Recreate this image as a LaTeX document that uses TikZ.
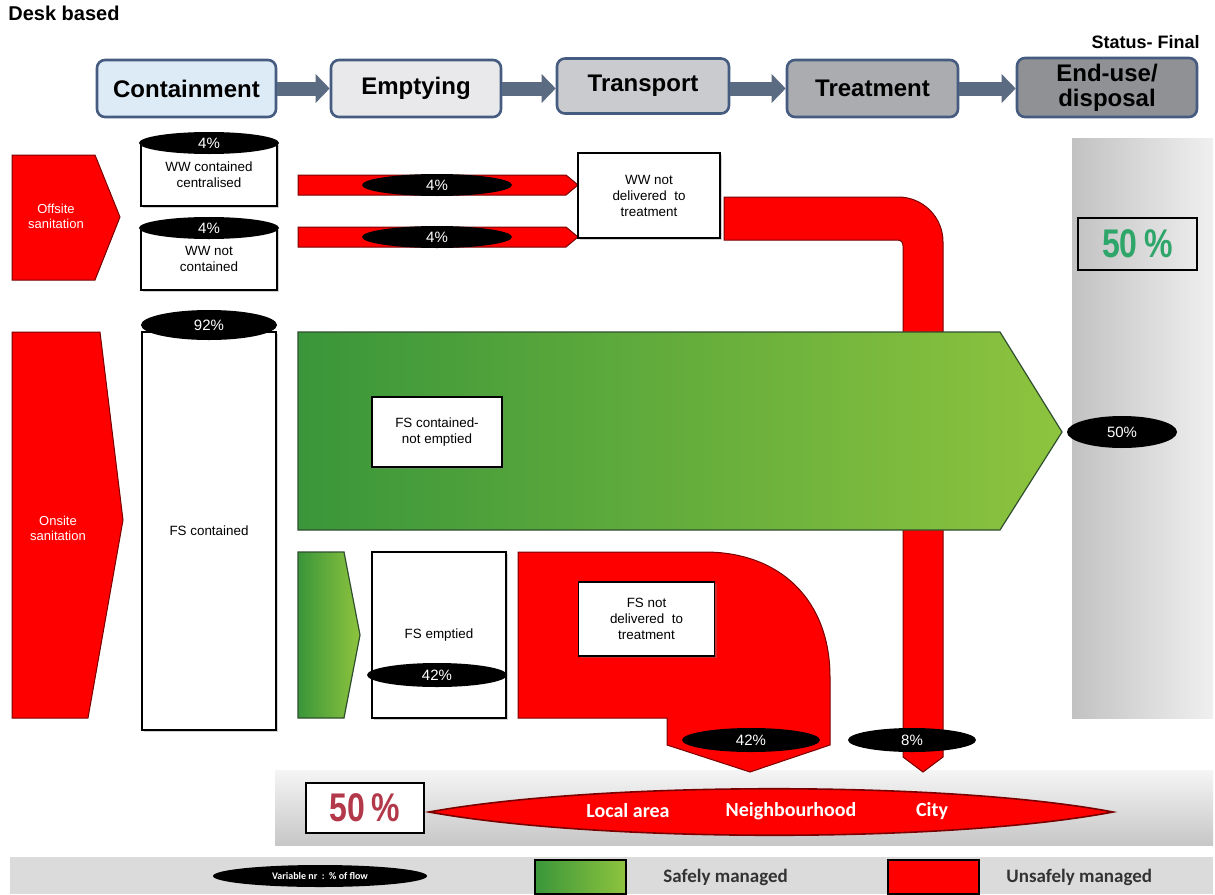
\documentclass[tikz,border=0pt]{standalone}
\usepackage{fontspec}
\setmainfont{Liberation Sans}
\newfontfamily\narrowf[FakeStretch=0.8]{Liberation Sans}
\newfontfamily\calf{Carlito}
\usetikzlibrary{shapes.geometric,shadows,arrows.meta}
\definecolor{hdrb}{HTML}{455C80}
\definecolor{arrc}{HTML}{5B6B82}
\definecolor{c1}{HTML}{DDEBF7}
\definecolor{c2}{HTML}{E9E9EC}
\definecolor{c3}{HTML}{CACBCE}
\definecolor{c4}{HTML}{ABACAF}
\definecolor{c5}{HTML}{909195}
\definecolor{dred}{HTML}{7A0000}
\definecolor{myred}{HTML}{FF0000}
\definecolor{g1}{HTML}{3A963A}
\definecolor{g2}{HTML}{8EC43E}
\definecolor{dgreen}{HTML}{2F4F2F}
\definecolor{pgreen}{HTML}{2EA66A}
\definecolor{pred}{HTML}{B3394A}
\definecolor{txtgray}{HTML}{333333}
\tikzset{
  hdr/.style={draw=hdrb, line width=1.3pt, rounded corners=4pt, font=\bfseries\fontsize{12}{12.5}\selectfont, align=center, inner sep=0pt},
  wbox/.style={draw=black, fill=white, line width=0.7pt, font=\fontsize{6.7}{8}\selectfont, align=center, inner sep=0pt,
    drop shadow={opacity=0.35, shadow xshift=1.2pt, shadow yshift=-1.2pt}},
  pct/.style={ellipse, fill=black, text=white, font=\fontsize{7.5}{8}\selectfont, inner sep=0pt},
  hdrarr/.style={line width=7pt, draw=arrc, -{Triangle[length=7pt,width=14pt]}},
  redshape/.style={fill=myred, draw=dred, line width=0.5pt},
  greenshape/.style={left color=g1, right color=g2, draw=dgreen, line width=0.6pt},
  sidetxt/.style={text=white, font=\fontsize{6.5}{7.5}\selectfont, align=center, inner sep=0pt},
  bigpct/.style={font=\narrowf\bfseries\fontsize{20}{22}\selectfont, inner sep=0pt},
  place/.style={text=white, font=\calf\bfseries\fontsize{10}{11}\selectfont, inner sep=0pt},
  legtxt/.style={text=txtgray, font=\calf\bfseries\fontsize{9.5}{11}\selectfont, anchor=west, inner sep=0pt}
}
\begin{document}
\begin{tikzpicture}[x=0.5pt,y=-0.5pt]
\useasboundingbox (0,0) rectangle (1215,894);
\fill[white] (0,0) rectangle (1215,894);

% top labels
\node[font=\bfseries\fontsize{10}{11}\selectfont, anchor=west, inner sep=0pt] (desk) at (8,13) {Desk based};
\node[font=\bfseries\fontsize{9}{10}\selectfont, anchor=east, inner sep=0pt] (status) at (1200,42) {Status- Final};

% header chain
\node[hdr, fill=c1, minimum width=89.5pt, minimum height=28.5pt] (h1) at (186.5,88.5) {Containment};
\node[hdr, fill=c2, minimum width=85pt, minimum height=28.5pt] (h2) at (416,88.5) {Emptying};
\node[hdr, fill=c3, minimum width=86pt, minimum height=27.5pt] (h3) at (643,86) {Transport};
\node[hdr, fill=c4, minimum width=85.5pt, minimum height=28.5pt] (h4) at (872.5,88.5) {Treatment};
\node[hdr, fill=c5, minimum width=90pt, minimum height=29.5pt] (h5) at (1107,87.5) {End-use/\\disposal};
\draw[hdrarr] (h1.east) -- (h2.west);
\draw[hdrarr] (h2.east) -- (h2.east -| h3.west);
\draw[hdrarr] (h3.east |- h4.west) -- (h4.west);
\draw[hdrarr] (h4.east) -- (h4.east -| h5.west);

% background panels
\shade[left color=black!24, right color=black!6] (1072,138) rectangle (1213,718);
\shade[top color=black!4, bottom color=black!22] (275,770) rectangle (1213,845);
\fill[black!14] (10,857) rectangle (1213,894);

% sanitation arrows
\draw[redshape] (12,155) -- (95,155) -- (120,217) -- (95,280) -- (12,280) -- cycle;
\node[sidetxt] (offt) at (56,216) {Offsite\\sanitation};
\draw[redshape] (12,332) -- (100,332) -- (123,520) -- (88,718) -- (12,718) -- cycle;
\node[sidetxt] (ont) at (58,528) {Onsite\\sanitation};

% containment boxes
\node[wbox, minimum width=68pt, minimum height=31.5pt] (wwc) at (209,174.5) {WW contained\\centralised};
\node[pct, minimum width=70pt, minimum height=11pt] (p1) at (209,143) {4\%};
\node[wbox, minimum width=68pt, minimum height=31pt] (wwn) at (209,259) {WW not\\contained};
\node[pct, minimum width=70pt, minimum height=11pt] (p2) at (209,228) {4\%};
\node[wbox, minimum width=67pt, minimum height=199pt] (fsc) at (209,531) {FS contained};
\node[pct, minimum width=68pt, minimum height=15pt] (p3) at (209,325) {92\%};

% thin red flows
\draw[redshape] (298,175) -- (566,175) -- (578,185) -- (566,195) -- (298,195) -- cycle;
\node[pct, minimum width=75pt, minimum height=11pt] (p4) at (437,185) {4\%};
\draw[redshape] (298,227) -- (566,227) -- (578,237) -- (566,247) -- (298,247) -- cycle;
\node[pct, minimum width=75pt, minimum height=11pt] (p5) at (437,237) {4\%};

\node[wbox, minimum width=71pt, minimum height=42.5pt] (wwnd) at (649,195.5) {WW not\\delivered\ \ to\\treatment};

% pipe WW not delivered
\draw[redshape] (724,197) -- (898,197) .. controls (923,197) and (943,217) .. (943,242)
  -- (943,757) -- (923,772) -- (903,757) -- (903,246)
  .. controls (903,242) and (901,240) .. (897,240) -- (724,240) -- cycle;

% big green arrow
\shadedraw[greenshape] (298,332) -- (1000,332) -- (1062,432) -- (1000,530) -- (298,530) -- cycle;
\node[wbox, minimum width=65pt, minimum height=35pt] (fscn) at (437,432) {FS contained-\\not emptied};
\node[pct, minimum width=55pt, minimum height=16pt] (p6) at (1122,432) {50\%};

\node[draw=black, line width=1.4pt, minimum width=59.5pt, minimum height=26pt, text=pgreen, bigpct] (g50) at (1137.5,244) {50\,\%};

% emptied branch
\shadedraw[greenshape] (298,552) -- (344,552) -- (360,635) -- (344,718) -- (298,718) -- cycle;
\node[wbox, minimum width=67pt, minimum height=83pt] (fse) at (439,635) {FS emptied};
\node[pct, minimum width=70pt, minimum height=12pt] (p7) at (437,675) {42\%};

\draw[redshape] (518,552) -- (705,552) .. controls (780,552) and (830,600) .. (830,677)
  -- (830,745) -- (750,772) -- (667,745) -- (667,718) -- (518,718) -- cycle;
\node[wbox, minimum width=68pt, minimum height=37pt] (fsnd) at (646.5,619) {FS not\\delivered\ \ to\\treatment};

\node[pct, minimum width=69pt, minimum height=12pt] (p8) at (751,740) {42\%};
\node[pct, minimum width=64pt, minimum height=12pt] (p9) at (912,740) {8\%};

% bottom destination
\node[draw=black, fill=white, line width=1.4pt, minimum width=59pt, minimum height=25pt, text=pred, bigpct] (r50) at (365,808) {50\,\%};
\draw[redshape, line width=0.8pt] (429,812) .. controls (600,781) and (950,781) .. (1113,812)
  .. controls (950,843) and (600,843) .. (429,812) -- cycle;
\node[place] (la) at (628,811) {Local area};
\node[place] (nb) at (791,811) {Neighbourhood};
\node[place] (ct) at (932,811) {City};

% legend
\node[pct, minimum width=107pt, minimum height=11pt, font=\calf\bfseries\fontsize{5}{6}\selectfont] (lg1) at (320,876) {Variable nr\ \ :\ \ \% of flow};
\shadedraw[left color=g1, right color=g2, draw=black, line width=0.6pt] (535,860) rectangle (626,894);
\node[legtxt] (lg2) at (663,877) {Safely managed};
\draw[redshape, draw=black, line width=0.6pt] (888,860) rectangle (979,894);
\node[legtxt] (lg3) at (1006,877) {Unsafely managed};
\end{tikzpicture}
\end{document}
